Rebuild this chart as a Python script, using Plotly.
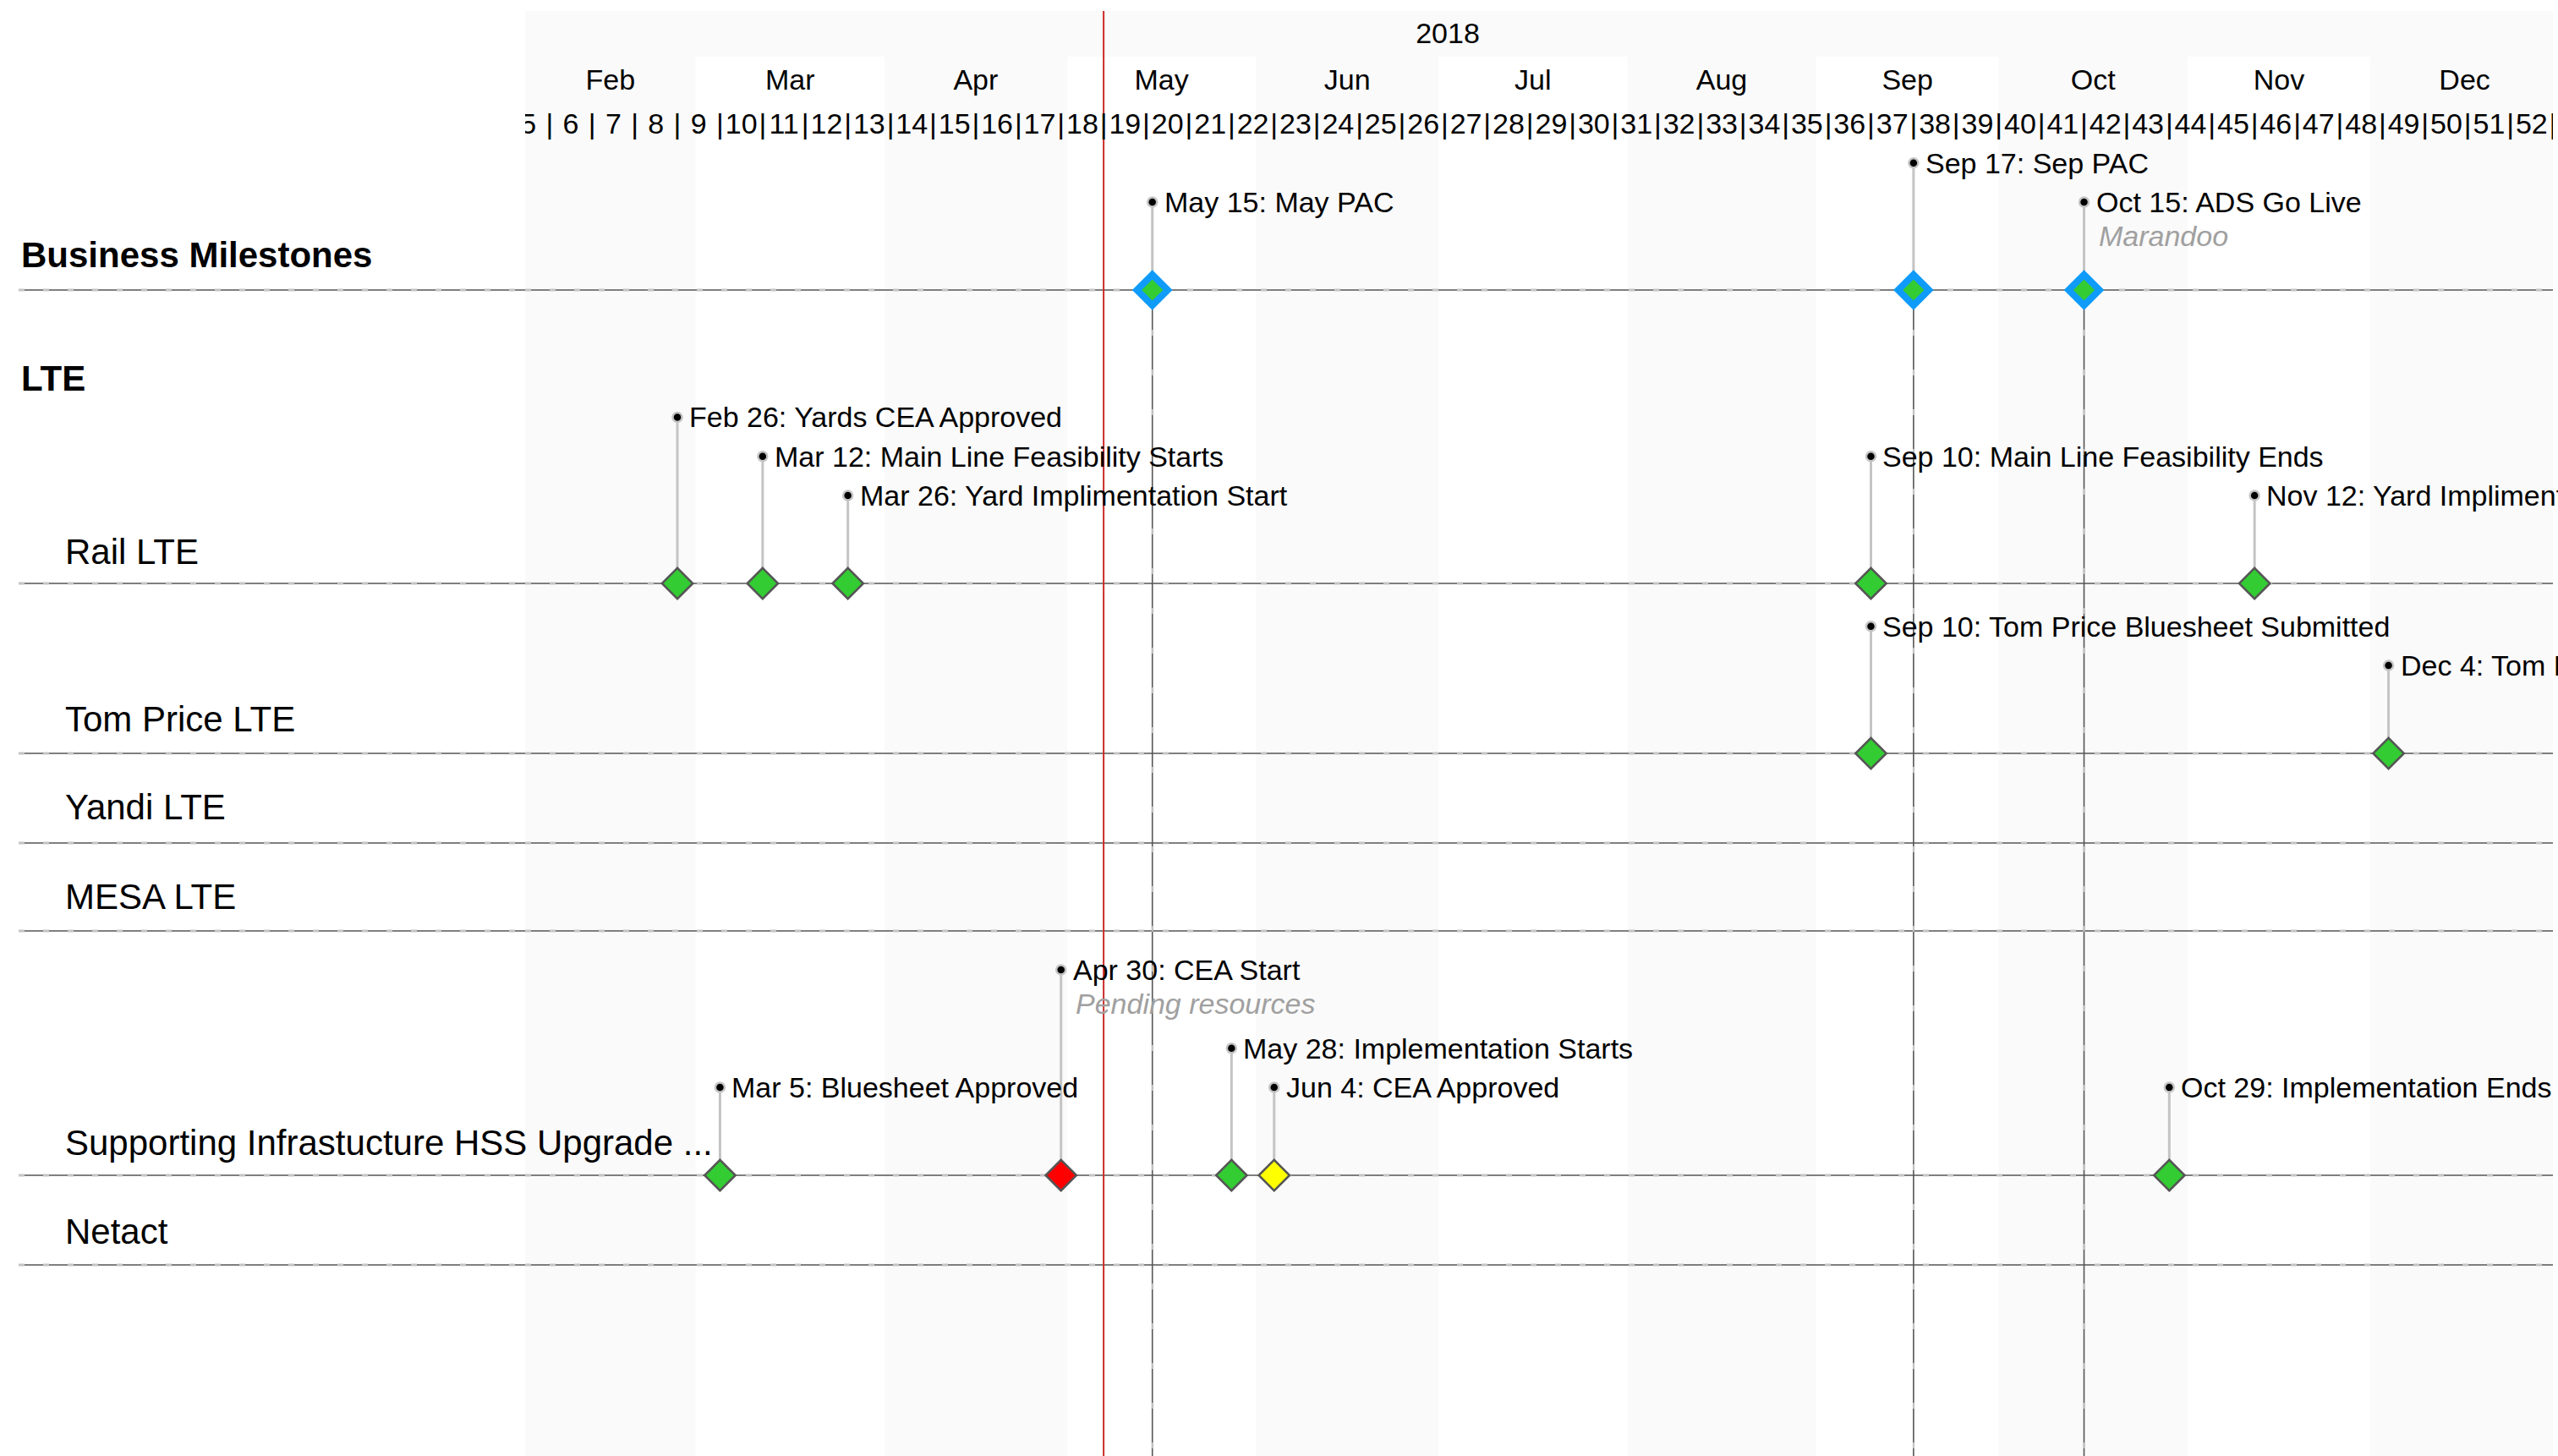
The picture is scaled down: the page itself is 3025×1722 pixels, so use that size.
import datetime as dt
import plotly.graph_objects as go

# ---------------- data ----------------
rows = ["Business Milestones", "LTE", "Rail LTE", "Tom Price LTE", "Yandi LTE",
        "MESA LTE", "Supporting Infrastucture HSS Upgrade ...", "Netact"]
row_bold = [True, True, False, False, False, False, False, False]
row_has_line = [True, False, True, True, True, True, True, True]

ms_row = ["Business Milestones", "Business Milestones", "Business Milestones",
          "Rail LTE", "Rail LTE", "Rail LTE", "Rail LTE", "Rail LTE",
          "Tom Price LTE", "Tom Price LTE",
          "Supporting Infrastucture HSS Upgrade ...", "Supporting Infrastucture HSS Upgrade ...",
          "Supporting Infrastucture HSS Upgrade ...", "Supporting Infrastucture HSS Upgrade ...",
          "Supporting Infrastucture HSS Upgrade ..."]
ms_date = ["2018-05-15", "2018-09-17", "2018-10-15",
           "2018-02-26", "2018-03-12", "2018-03-26", "2018-09-10", "2018-11-12",
           "2018-09-10", "2018-12-04",
           "2018-03-05", "2018-04-30", "2018-05-28", "2018-06-04", "2018-10-29"]
ms_name = ["May PAC", "Sep PAC", "ADS Go Live",
           "Yards CEA Approved", "Main Line Feasibility Starts", "Yard Implimentation Start",
           "Main Line Feasibility Ends", "Yard Implimentation Ends",
           "Tom Price Bluesheet Submitted", "Tom Price Bluesheet Approved",
           "Bluesheet Approved", "CEA Start", "Implementation Starts", "CEA Approved",
           "Implementation Ends"]
ms_note = ["", "", "Marandoo", "", "", "", "", "", "", "", "", "Pending resources", "", "", ""]
ms_status = ["business", "business", "business",
             "green", "green", "green", "green", "green",
             "green", "green",
             "green", "red", "green", "yellow", "green"]
ms_level = [1, 2, 1, 3, 2, 1, 2, 1, 2, 1, 1, 4, 2, 1, 1]

today = "2018-05-07"
year = 2018
month_names = ["Jan", "Feb", "Mar", "Apr", "May", "Jun", "Jul", "Aug", "Sep", "Oct", "Nov", "Dec"]
week_numbers = list(range(5, 53))
first_week_start = "2018-01-29"
view_start, view_end = "2018-02-01", "2018-12-31"

# ---------------- layout constants (pixels) ----------------
W, H = 3025, 1722
plot_x0, plot_x1 = 621, 3019
line_x0 = 22
row_line_y = {"Business Milestones": 343, "Rail LTE": 690, "Tom Price LTE": 891,
              "Yandi LTE": 997, "MESA LTE": 1101,
              "Supporting Infrastucture HSS Upgrade ...": 1390, "Netact": 1496}
row_label_y = [301, 447, 652, 850, 954, 1060, 1351, 1456]
row_label_x = [23, 23, 75, 75, 75, 75, 75, 75]
year_band = (13, 67)
year_y, month_y, week_y = 42, 97, 149
lvl0, lvl_step = 104, 46.3

FONT = "Liberation Sans, Arial, Helvetica, sans-serif"
GREEN, RED, YELLOW, BLUE = "#33cc33", "#ff0000", "#ffff00", "#0f9bf9"
BAND = "#fafafa"
DARK_LINE = dict(color="#555555", width=1.6)
DASH_LINE = dict(color="#c4c4c4", width=3, dash="7px,22px")

fig = go.Figure()
shapes = []

def d(s):
    return dt.date.fromisoformat(s)

# year band
shapes.append(dict(type="rect", xref="x", yref="y", x0=f"{year}-01-01", x1=f"{year+1}-01-01",
                   y0=year_band[0], y1=year_band[1], fillcolor=BAND, line=dict(width=0), layer="below"))
# month bands
for m in range(1, 13):
    if m % 2 == 0:
        s = dt.date(year, m, 1)
        e = dt.date(year + (m == 12), (m % 12) + 1, 1)
        shapes.append(dict(type="rect", xref="x", yref="y", x0=str(s), x1=str(e),
                           y0=year_band[1], y1=H, fillcolor=BAND, line=dict(width=0), layer="below"))
# row lines: label-area part (paper) + timeline part (data)
for r, has in zip(rows, row_has_line):
    if not has:
        continue
    y = row_line_y[r]
    for ln in (DARK_LINE, DASH_LINE):
        shapes.append(dict(type="line", xref="paper", yref="y", x0=line_x0 / W, x1=plot_x0 / W,
                           y0=y, y1=y, line=ln, layer="below"))
        shapes.append(dict(type="line", xref="x", yref="y", x0=view_start, x1=view_end,
                           y0=y, y1=y, line=ln, layer="below"))
# business milestone vertical lines
for r, ds in zip(ms_row, ms_date):
    if r == "Business Milestones":
        y = row_line_y[r]
        shapes.append(dict(type="line", xref="x", yref="y", x0=ds, x1=ds, y0=y, y1=H,
                           line=DARK_LINE, layer="below"))
        shapes.append(dict(type="line", xref="x", yref="y", x0=ds, x1=ds, y0=y, y1=H,
                           line=dict(color="#c4c4c4", width=2, dash="7px,40px"), layer="below"))
# today line
shapes.append(dict(type="line", xref="x", yref="y", x0=today, x1=today, y0=year_band[0], y1=H,
                   line=dict(color="#cc2a2a", width=2), layer="below"))

HF = dict(size=34, color="black", family=FONT)
# header text traces (clipped to plot area)
y0d, y1d = dt.date(year, 1, 1), dt.date(year + 1, 1, 1)
fig.add_trace(go.Scatter(x=[dt.datetime.combine(y0d, dt.time()) + (y1d - y0d) / 2],
                         y=[year_y], mode="text", text=[str(year)], textfont=HF, hoverinfo="skip"))
mx, mt = [], []
for m in range(1, 13):
    s = dt.datetime(year, m, 1)
    e = dt.datetime(year + (m == 12), (m % 12) + 1, 1)
    mx.append(s + (e - s) / 2)
    mt.append(month_names[m - 1])
fig.add_trace(go.Scatter(x=mx, y=[month_y] * len(mx), mode="text", text=mt, textfont=HF,
                         hoverinfo="skip"))
wk0 = dt.datetime.combine(d(first_week_start), dt.time())
wx, wt, bx = [], [], []
for i, w in enumerate(week_numbers):
    s = wk0 + dt.timedelta(days=7 * i)
    wx.append(s + dt.timedelta(hours=84))
    wt.append(str(w))
    bx.append(s)
bx.append(wk0 + dt.timedelta(days=7 * len(week_numbers)))
fig.add_trace(go.Scatter(x=wx, y=[week_y] * len(wx), mode="text", text=wt, textfont=HF,
                         hoverinfo="skip"))
fig.add_trace(go.Scatter(x=bx, y=[week_y] * len(bx), mode="text", text=["|"] * len(bx),
                         textfont=HF, hoverinfo="skip"))

# stems
sx, sy = [], []
for r, ds, lv in zip(ms_row, ms_date, ms_level):
    base = row_line_y[r]
    sx += [ds, ds, None]
    sy += [base, base - (lvl0 + lvl_step * (lv - 1)), None]
fig.add_trace(go.Scatter(x=sx, y=sy, mode="lines", line=dict(color="#c4c4c4", width=3),
                         hoverinfo="skip", cliponaxis=False))

# diamonds
for status in ["green", "red", "yellow", "business"]:
    xs = [ds for ds, st in zip(ms_date, ms_status) if st == status]
    ys = [row_line_y[r] for r, st in zip(ms_row, ms_status) if st == status]
    if status == "business":
        mk = dict(symbol="diamond", size=28, color=GREEN, line=dict(color=BLUE, width=8))
    else:
        col = {"green": GREEN, "red": RED, "yellow": YELLOW}[status]
        mk = dict(symbol="diamond", size=28, color=col, line=dict(color="#555555", width=2.5))
    fig.add_trace(go.Scatter(x=xs, y=ys, mode="markers", marker=mk, hoverinfo="skip", cliponaxis=False))

# dots + labels
dx, dy = [], []
annotations = []
for r, ds, nm, note, lv in zip(ms_row, ms_date, ms_name, ms_note, ms_level):
    y = row_line_y[r] - (lvl0 + lvl_step * (lv - 1))
    dx.append(ds)
    dy.append(y)
    dd = d(ds)
    label = f"{dd.strftime('%b')} {dd.day}: {nm}"
    annotations.append(dict(x=ds, y=y, xref="x", yref="y", text=label, showarrow=False,
                            xanchor="left", yanchor="middle", xshift=12,
                            font=dict(size=34, color="black", family=FONT)))
    if note:
        annotations.append(dict(x=ds, y=y + 40, xref="x", yref="y", text=f"<i>{note}</i>",
                                showarrow=False, xanchor="left", yanchor="middle", xshift=15,
                                font=dict(size=34, color="#a0a0a0", family=FONT)))
fig.add_trace(go.Scatter(x=dx, y=dy, mode="markers",
                         marker=dict(size=11, color="black", line=dict(color="#c4c4c4", width=2.5)),
                         hoverinfo="skip", cliponaxis=False))

# row labels
for r, b, ly, lx in zip(rows, row_bold, row_label_y, row_label_x):
    annotations.append(dict(x=lx / W, y=ly, xref="paper", yref="y",
                            text=f"<b>{r}</b>" if b else r, showarrow=False,
                            xanchor="left", yanchor="middle",
                            font=dict(size=42, color="black", family=FONT)))

fig.update_layout(
    width=W, height=H, margin=dict(l=0, r=0, t=0, b=0, pad=0),
    paper_bgcolor="white", plot_bgcolor="white", showlegend=False,
    shapes=shapes, annotations=annotations,
    xaxis=dict(type="date", range=[view_start, view_end], domain=[plot_x0 / W, plot_x1 / W],
               visible=False, showgrid=False, zeroline=False),
    yaxis=dict(range=[H, 0], domain=[0, 1], visible=False, showgrid=False, zeroline=False),
    font=dict(family=FONT),
)

fig.write_html("out.html", config={"displayModeBar": False},
               post_script="document.body.style.margin='0';document.body.style.overflow='hidden';")
